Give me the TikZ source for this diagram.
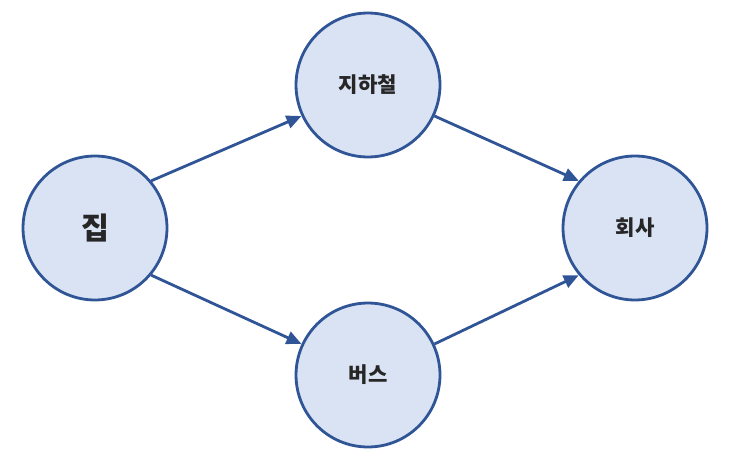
\documentclass[tikz,border=0pt]{standalone}
\usepackage{fontspec}
\setmainfont{Noto Sans CJK KR}
\usetikzlibrary{arrows.meta,positioning}
\definecolor{placefill}{HTML}{DAE3F3}
\definecolor{placeline}{HTML}{2F5597}
\definecolor{placetext}{HTML}{262626}
\tikzset{
    % Place circle
    place/.style={circle,draw=placeline,fill=placefill,line width=1.6pt,minimum size=2.88cm,inner sep=0pt,text=placetext,font=\bfseries\large},
    % Route arrow
    route/.style={-{Triangle[length=3mm,width=2.6mm]},line width=1.6pt,placeline}
}
\begin{document}
\begin{tikzpicture}[x=0.02cm,y=-0.02cm]
    \useasboundingbox (0,0) rectangle (729,466);
    % Places
    \node[place,font=\bfseries\LARGE] (home) at (95,228) {집};
    \node[place] (subway) at (368,85) {지하철};
    \node[place] (bus) at (368,375) {버스};
    \node[place] (office) at (635,228) {회사};

    % Routes
    \draw[route] (home.40) -- (subway.205);
    \draw[route] (home.-40) -- (bus.155);
    \draw[route] (subway.-25) -- (office.140);
    \draw[route] (bus.25) -- (office.-140);
\end{tikzpicture}
\end{document}
